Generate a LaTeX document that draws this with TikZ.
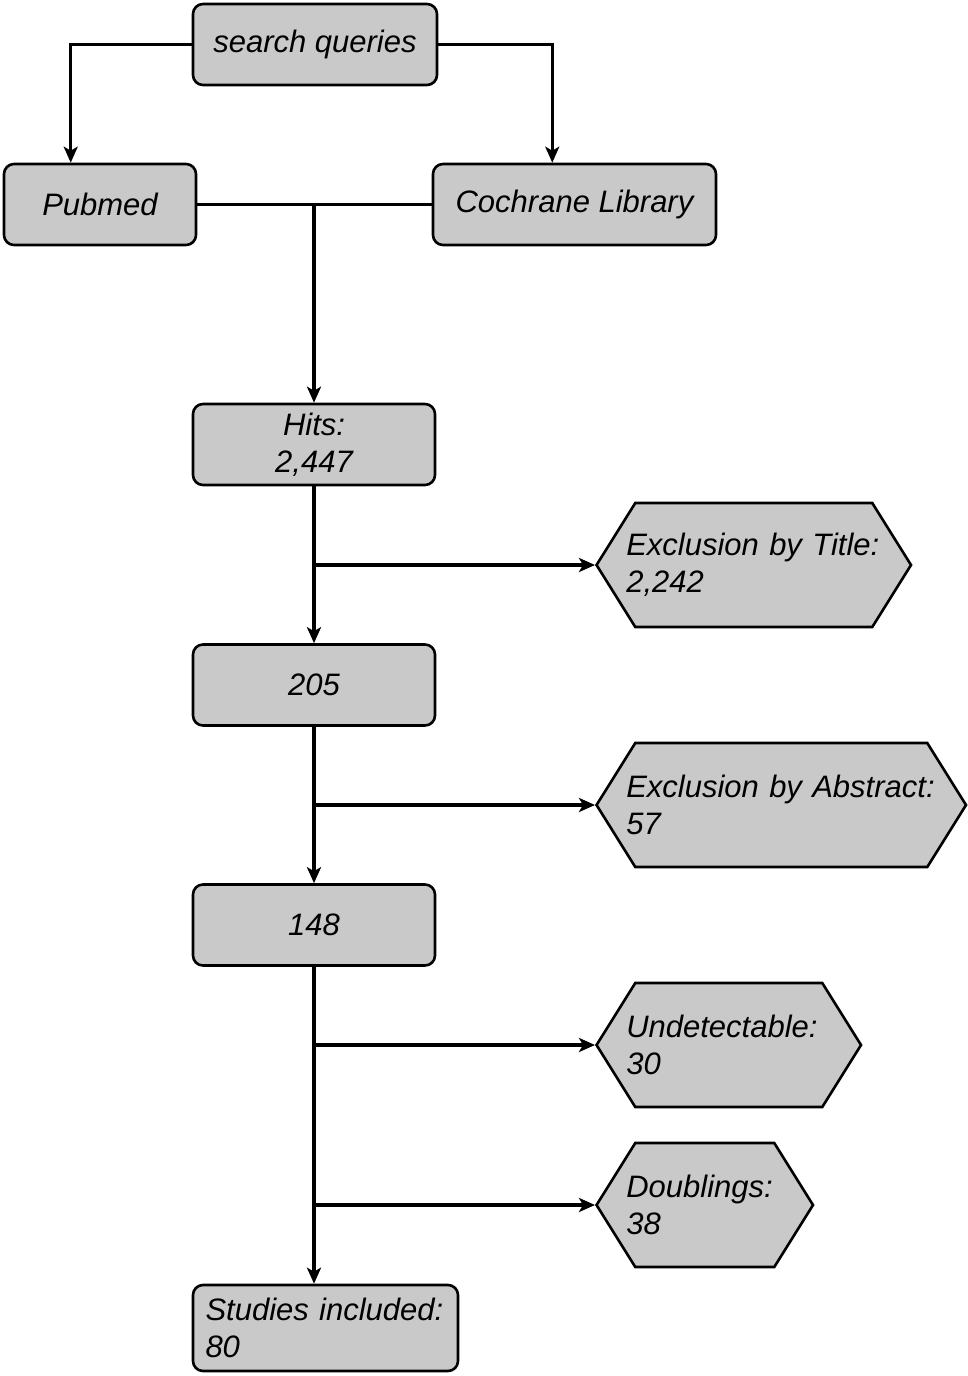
\documentclass[tikz,border=0pt]{standalone}
\usepackage{fontspec}
\setmainfont{Liberation Sans}
\usetikzlibrary{arrows.meta,shapes.symbols}
\definecolor{boxgray}{gray}{0.79}

\begin{document}
\begin{tikzpicture}[x=0.5pt,y=-0.5pt,every node/.style={font=\fontsize{15.5}{18.5}\selectfont\itshape},stage/.style={draw,line width=1.3pt,fill=boxgray,rectangle,rounded corners=5pt,minimum height=40.5pt,inner sep=0pt},excl/.style={draw,line width=1.3pt,fill=boxgray,signal,signal to=west and east,signal pointer angle=116,minimum height=62pt,inner xsep=-4.5pt,inner ysep=0pt,align=left,anchor=west},link/.style={draw,line width=1.6pt,-{Stealth[length=8pt,width=7pt,inset=2pt]}},every edge/.style={link}]
\useasboundingbox (0,0) rectangle (968,1376);
\node[stage,minimum width=122pt] (query) at (315,44.5) {search queries};
\node[stage,minimum width=96pt] (pubmed) at (100,204.5) {Pubmed};
\node[stage,minimum width=141.5pt] (cochrane) at (574.5,204.5) {Cochrane Library};
\node[stage,minimum width=121pt,align=center] (hits) at (314,444.5) {Hits:\\2,447};
\node[stage,minimum width=121pt] (n205) at (314,685) {205};
\node[stage,minimum width=121pt] (n148) at (314,925) {148};
\node[stage,minimum height=43pt,text width=120pt,inner xsep=6.25pt,align=left] (studies) at (325.5,1328) {Studies included:\\80};
\node[excl,text width=127.5pt] (title) at (595,565) {Exclusion by Title:\\2,242};
\node[excl,text width=155pt] (abstract) at (595,805) {Exclusion by Abstract:\\57};
\node[excl,text width=102.5pt] (undet) at (595,1045) {Undetectable:\\30};
\node[excl,text width=78.5pt] (doubl) at (595,1205) {Doublings:\\38};
\draw[link] (query.west) -| (pubmed.125);
\draw[link] (query.east) -| (cochrane.118);
\draw[line width=1.6pt] (pubmed.east) -- (cochrane.west);
\path (pubmed.east -| hits.north) edge (hits.north);
\path (hits) edge (n205);
\path (title.west -| hits.south) edge (title.west);
\path (n205) edge (n148);
\path (abstract.west -| n205.south) edge (abstract.west);
\path (n148.south) edge (n148.south |- studies.north);
\path (undet.west -| n148.south) edge (undet.west);
\path (doubl.west -| n148.south) edge (doubl.west);
\end{tikzpicture}
\end{document}
